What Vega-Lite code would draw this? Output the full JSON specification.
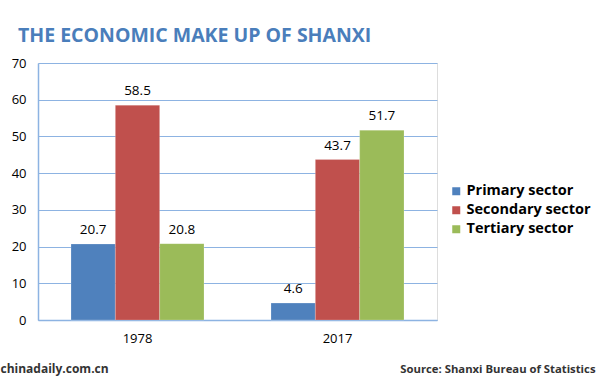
{
  "$schema": "https://vega.github.io/schema/vega-lite/v6.json",
  "autosize": {"type": "none"},
  "padding": {"left": 38, "top": 63, "right": 163, "bottom": 63},
  "width": 399,
  "height": 257,
  "background": "white",
  "title": {
    "text": "THE ECONOMIC MAKE UP OF SHANXI",
    "anchor": "start",
    "frame": "group",
    "dx": -20,
    "offset": 11,
    "font": "Open Sans",
    "fontSize": 19.5,
    "fontWeight": "bold",
    "color": "#4a7ebb"
  },
  "data": {
    "values": [
      {"year": "1978", "sector": "Primary sector", "value": 20.7},
      {"year": "1978", "sector": "Secondary sector", "value": 58.5},
      {"year": "1978", "sector": "Tertiary sector", "value": 20.8},
      {"year": "2017", "sector": "Primary sector", "value": 4.6},
      {"year": "2017", "sector": "Secondary sector", "value": 43.7},
      {"year": "2017", "sector": "Tertiary sector", "value": 51.7}
    ]
  },
  "encoding": {
    "x": {
      "field": "year",
      "type": "nominal",
      "scale": {"paddingInner": 0.335, "paddingOuter": 0.165},
      "axis": {
        "title": "Source: Shanxi Bureau of Statistics",
        "titleAnchor": "end",
        "titleAlign": "right",
        "titleBaseline": "alphabetic",
        "titleX": 557,
        "titleY": 52,
        "titleFont": "Open Sans",
        "titleFontSize": 11.3,
        "titleFontWeight": "bold",
        "titleColor": "#333333",
        "labelAngle": 0,
        "labelFont": "Open Sans",
        "labelFontSize": 13,
        "labelColor": "#000000",
        "labelPadding": 12,
        "ticks": false,
        "domainColor": "#8db3e2",
        "domainWidth": 1.5
      }
    },
    "xOffset": {"field": "sector", "type": "nominal", "scale": {"paddingInner": 0, "paddingOuter": 0}},
    "y": {
      "field": "value",
      "type": "quantitative",
      "scale": {"domain": [0, 70]},
      "axis": {
        "values": [0, 10, 20, 30, 40, 50, 60, 70],
        "title": "chinadaily.com.cn",
        "titleAngle": 0,
        "titleAlign": "left",
        "titleBaseline": "alphabetic",
        "titleX": -38,
        "titleY": 309,
        "titleFont": "Open Sans",
        "titleFontSize": 12,
        "titleFontWeight": "bold",
        "titleColor": "#333333",
        "labelFont": "Open Sans",
        "labelFontSize": 13,
        "labelColor": "#000000",
        "labelPadding": 12,
        "ticks": false,
        "domainColor": "#8db3e2",
        "domainWidth": 1.5,
        "grid": true,
        "gridColor": "#8db3e2",
        "gridWidth": 1.2
      }
    }
  },
  "layer": [
    {
      "mark": {"type": "bar", "stroke": "#ffffff", "strokeWidth": 0.5, "strokeOpacity": 0.4},
      "encoding": {
        "color": {
          "field": "sector",
          "type": "nominal",
          "scale": {
            "domain": ["Primary sector", "Secondary sector", "Tertiary sector"],
            "range": ["#4f81bd", "#c0504d", "#9bbb59"]
          },
          "legend": {
            "title": null,
            "orient": "none",
            "legendX": 411,
            "legendY": 121,
            "symbolType": "square",
            "symbolSize": 64,
            "symbolStrokeWidth": 0,
            "labelFont": "Open Sans",
            "labelFontSize": 14.5,
            "labelFontWeight": "bold",
            "labelColor": "#000000",
            "rowPadding": 4,
            "labelOffset": 3
          }
        }
      }
    },
    {
      "mark": {"type": "text", "dy": -7, "baseline": "bottom", "font": "Open Sans", "fontSize": 13.5, "color": "#000000"},
      "encoding": {
        "text": {"field": "value", "type": "quantitative", "format": ".1f"}
      }
    }
  ]
}
